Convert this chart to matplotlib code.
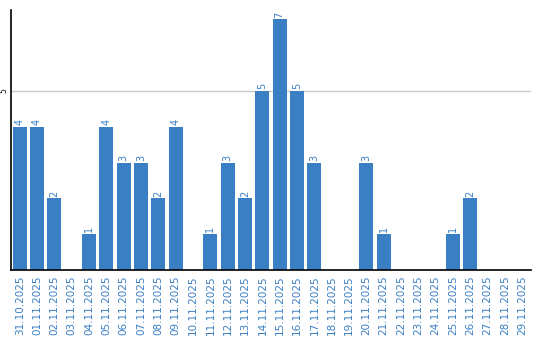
import matplotlib
matplotlib.use("Agg")
import matplotlib.pyplot as plt

dates = ["31.10.2025"] + ["%02d.11.2025" % d for d in range(1, 30)]
counts = [4, 4, 2, 0, 1, 4, 3, 3, 2, 4, 0, 1, 3, 2, 5, 7, 5, 3, 0, 0,
          3, 1, 0, 0, 0, 1, 2, 0, 0, 0]

bar_color = "#3a7fc4"
text_color = "#3a7fc4"

fig = plt.figure(figsize=(5.4, 3.4), dpi=100)
ax = fig.add_axes([11 / 540, 70 / 340, 520 / 540, 260 / 340])

x = list(range(len(dates)))
ax.bar(x, counts, width=0.8, color=bar_color, zorder=2)

# value labels above non-empty bars
for xi, v in zip(x, counts):
    if v > 0:
        ax.text(xi, v + 0.05, str(v), rotation=90, ha="center", va="bottom",
                color=text_color, fontsize=7)

ax.set_xlim(-0.5, len(dates) - 0.5)
ax.set_ylim(0, 7.26)
ax.set_yticks([5])
ax.set_yticklabels(["5"], rotation=90, va="center", fontsize=5.5)
ax.tick_params(axis="y", length=0, pad=2)
ax.yaxis.grid(True, color="#c8c8c8", linewidth=1, zorder=0)

ax.set_xticks(x)
ax.set_xticklabels(dates, rotation=90, color=text_color, fontsize=7.5)
ax.tick_params(axis="x", length=0, pad=4)

for side in ["top", "right"]:
    ax.spines[side].set_visible(False)
ax.spines["left"].set_linewidth(1.2)
ax.spines["bottom"].set_linewidth(1.2)

fig.savefig("out.png", dpi=100)
